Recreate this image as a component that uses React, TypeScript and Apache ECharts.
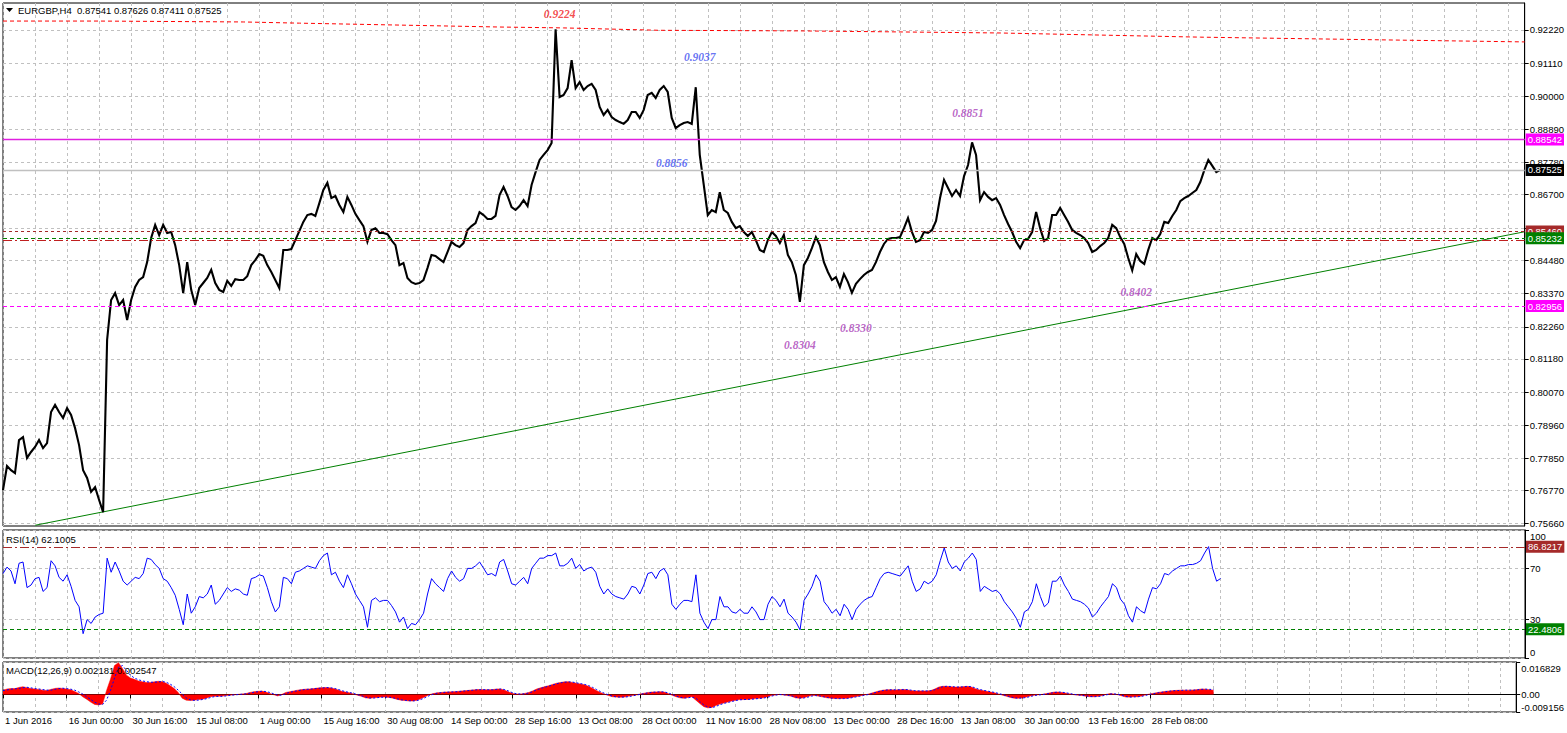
import React, { useEffect, useRef } from "react";
import * as echarts from "echarts";

// ---------- DATA ----------
const xTickLabels = [
  "1 Jun 2016", "16 Jun 00:00", "30 Jun 16:00", "15 Jul 08:00", "1 Aug 00:00",
  "15 Aug 16:00", "30 Aug 08:00", "14 Sep 00:00", "28 Sep 16:00", "13 Oct 08:00",
  "28 Oct 00:00", "11 Nov 16:00", "28 Nov 08:00", "13 Dec 00:00", "28 Dec 16:00",
  "13 Jan 08:00", "30 Jan 00:00", "13 Feb 16:00", "28 Feb 08:00",
];

const priceTicks = [0.9222, 0.9111, 0.9, 0.8889, 0.8778, 0.867, 0.8556, 0.8448, 0.8337, 0.8226, 0.8118, 0.8007, 0.7896, 0.7785, 0.7677, 0.7566];
const rsiTicks = [100, 70, 30, 0];
const macdTicks = [0.016829, 0, -0.009156];

// EURGBP H4 closes, one sample every 4 bars
const priceClose = [
  0.7678, 0.7759, 0.7745, 0.7735, 0.7846, 0.7856, 0.7786, 0.7806, 0.7823, 0.7846, 0.7819, 0.7836, 0.7940, 0.7964, 0.7940, 0.7920,
  0.7953, 0.7930, 0.7886, 0.7829, 0.7745, 0.7719, 0.7672, 0.7688, 0.7645, 0.7604, 0.8182, 0.8316, 0.8339, 0.8299, 0.8316, 0.8249,
  0.8316, 0.8360, 0.8383, 0.8393, 0.8443, 0.8524, 0.8568, 0.8534, 0.8568, 0.8541, 0.8544, 0.8500, 0.8433, 0.8339, 0.8443, 0.8350,
  0.8299, 0.8356, 0.8373, 0.8390, 0.8417, 0.8373, 0.8350, 0.8343, 0.8380, 0.8363, 0.8386, 0.8383, 0.8383, 0.8396, 0.8433, 0.8450,
  0.8470, 0.8464, 0.8433, 0.8410, 0.8383, 0.8356, 0.8484, 0.8484, 0.8487, 0.8517, 0.8547, 0.8578, 0.8601, 0.8605, 0.8598, 0.8641,
  0.8685, 0.8709, 0.8658, 0.8665, 0.8635, 0.8611, 0.8662, 0.8635, 0.8605, 0.8584, 0.8564, 0.8511, 0.8551, 0.8557, 0.8541, 0.8541,
  0.8537, 0.8517, 0.8500, 0.8433, 0.8440, 0.8390, 0.8376, 0.8370, 0.8373, 0.8383, 0.8423, 0.8467, 0.8464, 0.8453, 0.8443, 0.8477,
  0.8511, 0.8500, 0.8494, 0.8507, 0.8551, 0.8564, 0.8574, 0.8611, 0.8601, 0.8588, 0.8588, 0.8598, 0.8668, 0.8695, 0.8665, 0.8628,
  0.8618, 0.8631, 0.8651, 0.8631, 0.8702, 0.8745, 0.8786, 0.8803, 0.8819, 0.8843, 0.9224, 0.8997, 0.9004, 0.9027, 0.9121, 0.9027,
  0.9047, 0.9021, 0.9034, 0.9041, 0.9021, 0.8964, 0.8937, 0.8954, 0.8930, 0.8920, 0.8913, 0.8907, 0.8920, 0.8947, 0.8947, 0.8927,
  0.8954, 0.9004, 0.9011, 0.8994, 0.9021, 0.9034, 0.9014, 0.8927, 0.8893, 0.8903, 0.8910, 0.8913, 0.8907, 0.9030, 0.8803, 0.8702,
  0.8601, 0.8618, 0.8611, 0.8678, 0.8618, 0.8608, 0.8578, 0.8557, 0.8564, 0.8544, 0.8531, 0.8544, 0.8517, 0.8484, 0.8477, 0.8517,
  0.8544, 0.8531, 0.8507, 0.8534, 0.8467, 0.8443, 0.8400, 0.8310, 0.8433, 0.8457, 0.8490, 0.8527, 0.8500, 0.8443, 0.8410, 0.8383,
  0.8393, 0.8360, 0.8403, 0.8376, 0.8340, 0.8370, 0.8386, 0.8400, 0.8410, 0.8417, 0.8443, 0.8477, 0.8504, 0.8521, 0.8524, 0.8524,
  0.8527, 0.8557, 0.8591, 0.8544, 0.8511, 0.8517, 0.8544, 0.8541, 0.8551, 0.8581, 0.8658, 0.8719, 0.8692, 0.8665, 0.8685, 0.8665,
  0.8732, 0.8769, 0.8845, 0.8803, 0.8651, 0.8678, 0.8662, 0.8651, 0.8658, 0.8635, 0.8601, 0.8571, 0.8544, 0.8511, 0.8490, 0.8517,
  0.8521, 0.8544, 0.8611, 0.8557, 0.8514, 0.8524, 0.8601, 0.8601, 0.8625, 0.8601, 0.8578, 0.8551, 0.8541, 0.8534, 0.8524, 0.8507,
  0.8477, 0.8484, 0.8497, 0.8507, 0.8524, 0.8568, 0.8557, 0.8527, 0.8504, 0.8457, 0.8415, 0.8470, 0.8447, 0.8437, 0.8484, 0.8524,
  0.8517, 0.8537, 0.8578, 0.8574, 0.8598, 0.8618, 0.8648, 0.8658, 0.8665, 0.8675, 0.8685, 0.8712, 0.8752, 0.8786, 0.8766, 0.8745,
  0.87525,
];

const rsiValues = [
  66, 71, 68, 58, 74, 75, 55, 57, 62, 63, 52, 55, 76, 72, 63, 60,
  65, 56, 45, 40, 19, 30, 27, 32, 34, 35, 78, 67, 75, 68, 60, 57,
  60, 63, 62, 66, 78, 77, 73, 70, 62, 60, 55, 49, 38, 26, 50, 35,
  40, 48, 47, 50, 57, 42, 45, 50, 55, 52, 54, 53, 50, 49, 62, 63,
  65, 64, 55, 44, 36, 40, 63, 62, 58, 67, 68, 70, 72, 71, 70, 76,
  80, 82, 65, 67, 60, 55, 65, 58, 50, 45, 40, 24, 45, 47, 44, 45,
  45, 41, 36, 28, 32, 23, 27, 26, 30, 35, 50, 62, 58, 55, 52, 62,
  68, 63, 60, 62, 70, 70, 72, 75, 70, 65, 66, 64, 75, 77, 68, 58,
  57, 60, 63, 58, 70, 74, 78, 78, 80, 80, 82, 72, 72, 74, 78, 70,
  73, 68, 70, 71, 67, 56, 50, 54, 50, 48, 47, 46, 50, 56, 55, 50,
  57, 66, 67, 62, 68, 70, 65, 42, 38, 42, 45, 45, 44, 65, 35, 28,
  23, 30, 30, 48, 40, 40, 36, 35, 38, 35, 35, 40, 36, 30, 30, 42,
  48, 45, 40, 46, 35, 32, 28, 22, 45, 50, 56, 65, 60, 44, 40, 35,
  38, 33, 42, 38, 30, 38, 42, 45, 47, 48, 55, 62, 66, 67, 66, 65,
  64, 68, 72, 60, 52, 54, 60, 58, 60, 65, 76, 86, 75, 70, 72, 68,
  75, 78, 82, 77, 52, 56, 54, 52, 53, 50, 44, 40, 36, 31, 24, 36,
  38, 44, 58, 48, 40, 43, 60, 60, 64, 57, 52, 46, 45, 44, 42, 39,
  32, 35, 40, 44, 48, 58, 55, 46, 42, 33, 28, 40, 37, 35, 46, 55,
  54, 58, 66, 65, 68, 70, 72, 72, 73, 73, 74, 76, 82, 87, 70, 60,
  62.1005,
];

const macdMain = [
  0.0022, 0.0028, 0.0030, 0.0030, 0.0036, 0.0040, 0.0035, 0.0030, 0.0028, 0.0026, 0.0022, 0.0020, 0.0026, 0.0031, 0.0033, 0.0031,
  0.0028, 0.0024, 0.0015, 0.0005, -0.0012, -0.0025, -0.0040, -0.0052, -0.0055, -0.0050, 0.0020, 0.0080, 0.0150, 0.0165, 0.0135, 0.0100,
  0.0085, 0.0078, 0.0070, 0.0065, 0.0062, 0.0062, 0.0065, 0.0068, 0.0066, 0.0058, 0.0045, 0.0030, 0.0010, -0.0020, -0.0030, -0.0032,
  -0.0030, -0.0027, -0.0025, -0.0020, -0.0012, -0.0010, -0.0010, -0.0009, -0.0006, -0.0004, -0.0002, 0.0000, 0.0002, 0.0004, 0.0010, 0.0014,
  0.0016, 0.0017, 0.0012, 0.0005, -0.0002, -0.0008, 0.0000, 0.0010, 0.0014, 0.0018, 0.0022, 0.0025, 0.0027, 0.0028, 0.0030, 0.0033,
  0.0035, 0.0036, 0.0034, 0.0030, 0.0024, 0.0016, 0.0012, 0.0008, 0.0002, -0.0004, -0.0010, -0.0018, -0.0020, -0.0018, -0.0016, -0.0014,
  -0.0014, -0.0016, -0.0020, -0.0026, -0.0030, -0.0032, -0.0034, -0.0034, -0.0030, -0.0022, -0.0012, -0.0002, 0.0004, 0.0008, 0.0010, 0.0012,
  0.0013, 0.0014, 0.0015, 0.0017, 0.0019, 0.0021, 0.0023, 0.0025, 0.0025, 0.0024, 0.0024, 0.0025, 0.0028, 0.0028, 0.0022, 0.0012,
  0.0004, 0.0002, 0.0002, 0.0005, 0.0010, 0.0018, 0.0028, 0.0034, 0.0040, 0.0045, 0.0052, 0.0058, 0.0062, 0.0065, 0.0066, 0.0062,
  0.0058, 0.0054, 0.0050, 0.0042, 0.0032, 0.0020, 0.0010, 0.0002, -0.0006, -0.0012, -0.0014, -0.0015, -0.0014, -0.0010, -0.0006, -0.0003,
  0.0002, 0.0006, 0.0010, 0.0012, 0.0013, 0.0014, 0.0012, 0.0004, -0.0004, -0.0012, -0.0018, -0.0020, -0.0016, -0.0012, -0.0030, -0.0048,
  -0.0064, -0.0070, -0.0068, -0.0058, -0.0050, -0.0045, -0.0040, -0.0034, -0.0030, -0.0027, -0.0027, -0.0026, -0.0024, -0.0022, -0.0020, -0.0018,
  -0.0012, -0.0006, -0.0003, 0.0000, -0.0003, -0.0006, -0.0010, -0.0018, -0.0020, -0.0018, -0.0012, -0.0006, -0.0006, -0.0010, -0.0014, -0.0018,
  -0.0020, -0.0022, -0.0022, -0.0021, -0.0020, -0.0016, -0.0012, -0.0008, -0.0004, 0.0000, 0.0006, 0.0012, 0.0018, 0.0022, 0.0024, 0.0024,
  0.0023, 0.0024, 0.0026, 0.0024, 0.0020, 0.0018, 0.0018, 0.0018, 0.0018, 0.0020, 0.0028, 0.0038, 0.0042, 0.0042, 0.0040, 0.0038,
  0.0038, 0.0040, 0.0042, 0.0040, 0.0030, 0.0024, 0.0020, 0.0016, 0.0012, 0.0008, 0.0002, -0.0004, -0.0010, -0.0016, -0.0020, -0.0020,
  -0.0018, -0.0014, -0.0008, -0.0004, -0.0002, 0.0000, 0.0004, 0.0008, 0.0012, 0.0012, 0.0010, 0.0006, 0.0002, -0.0002, -0.0004, -0.0006,
  -0.0010, -0.0012, -0.0012, -0.0010, -0.0006, 0.0000, 0.0004, 0.0002, -0.0002, -0.0008, -0.0014, -0.0014, -0.0012, -0.0012, -0.0008, -0.0002,
  0.0002, 0.0006, 0.0010, 0.0013, 0.0016, 0.0018, 0.0020, 0.0021, 0.0022, 0.0022, 0.0022, 0.0023, 0.0025, 0.0028, 0.0027, 0.0024,
  0.002181,
];

const macdSignal = [
  0.0020, 0.0023, 0.0027, 0.0029, 0.0031, 0.0035, 0.0037, 0.0034, 0.0030, 0.0028, 0.0025, 0.0022, 0.0022, 0.0026, 0.0030, 0.0032,
  0.0030, 0.0027, 0.0022, 0.0013, 0.0002, -0.0012, -0.0026, -0.0040, -0.0050, -0.0053, -0.0030, 0.0020, 0.0085, 0.0140, 0.0150, 0.0125,
  0.0100, 0.0085, 0.0076, 0.0070, 0.0066, 0.0063, 0.0063, 0.0065, 0.0067, 0.0063, 0.0053, 0.0040, 0.0022, 0.0002, -0.0018, -0.0028,
  -0.0031, -0.0030, -0.0027, -0.0023, -0.0017, -0.0012, -0.0010, -0.0010, -0.0008, -0.0005, -0.0003, -0.0001, 0.0001, 0.0003, 0.0006, 0.0011,
  0.0014, 0.0016, 0.0015, 0.0010, 0.0003, -0.0004, -0.0004, 0.0004, 0.0011, 0.0015, 0.0019, 0.0023, 0.0026, 0.0027, 0.0029, 0.0031,
  0.0033, 0.0035, 0.0035, 0.0032, 0.0027, 0.0020, 0.0014, 0.0010, 0.0005, -0.0001, -0.0007, -0.0014, -0.0019, -0.0019, -0.0017, -0.0015,
  -0.0014, -0.0015, -0.0018, -0.0023, -0.0028, -0.0031, -0.0033, -0.0034, -0.0032, -0.0026, -0.0017, -0.0007, 0.0001, 0.0006, 0.0009, 0.0011,
  0.0012, 0.0013, 0.0014, 0.0016, 0.0018, 0.0020, 0.0022, 0.0024, 0.0025, 0.0025, 0.0024, 0.0024, 0.0026, 0.0028, 0.0025, 0.0017,
  0.0008, 0.0003, 0.0002, 0.0003, 0.0007, 0.0014, 0.0023, 0.0031, 0.0037, 0.0043, 0.0048, 0.0055, 0.0060, 0.0063, 0.0065, 0.0064,
  0.0060, 0.0056, 0.0052, 0.0046, 0.0037, 0.0026, 0.0015, 0.0006, -0.0002, -0.0009, -0.0013, -0.0014, -0.0014, -0.0012, -0.0008, -0.0004,
  0.0000, 0.0004, 0.0008, 0.0011, 0.0012, 0.0013, 0.0013, 0.0008, 0.0000, -0.0008, -0.0015, -0.0019, -0.0018, -0.0014, -0.0020, -0.0038,
  -0.0055, -0.0066, -0.0069, -0.0063, -0.0054, -0.0047, -0.0042, -0.0037, -0.0032, -0.0028, -0.0027, -0.0026, -0.0025, -0.0023, -0.0021, -0.0019,
  -0.0015, -0.0009, -0.0004, -0.0001, -0.0002, -0.0004, -0.0008, -0.0014, -0.0019, -0.0019, -0.0015, -0.0009, -0.0006, -0.0008, -0.0012, -0.0016,
  -0.0019, -0.0021, -0.0022, -0.0022, -0.0021, -0.0018, -0.0014, -0.0010, -0.0006, -0.0002, 0.0003, 0.0009, 0.0015, 0.0020, 0.0023, 0.0024,
  0.0024, 0.0024, 0.0025, 0.0025, 0.0022, 0.0019, 0.0018, 0.0018, 0.0018, 0.0019, 0.0024, 0.0033, 0.0040, 0.0042, 0.0041, 0.0039,
  0.0038, 0.0039, 0.0041, 0.0041, 0.0035, 0.0027, 0.0022, 0.0018, 0.0014, 0.0010, 0.0005, -0.0001, -0.0007, -0.0013, -0.0018, -0.0020,
  -0.0019, -0.0016, -0.0011, -0.0006, -0.0003, -0.0001, 0.0002, 0.0006, 0.0010, 0.0012, 0.0011, 0.0008, 0.0004, 0.0000, -0.0003, -0.0005,
  -0.0008, -0.0011, -0.0012, -0.0011, -0.0008, -0.0003, 0.0002, 0.0003, 0.0000, -0.0005, -0.0011, -0.0014, -0.0013, -0.0012, -0.0010, -0.0005,
  0.0000, 0.0004, 0.0008, 0.0011, 0.0014, 0.0017, 0.0019, 0.0020, 0.0021, 0.0022, 0.0022, 0.0022, 0.0024, 0.0026, 0.0027, 0.0026,
  0.002547,
];

// slow red dashed average near the top: [sample index, price]
const slowAverage: [number, number][] = [
  [0, 0.9252], [24, 0.9252], [60, 0.9249], [74, 0.9245], [124, 0.9232], [140, 0.9229],
  [164, 0.9221], [199, 0.9219], [249, 0.9212], [299, 0.9198], [349, 0.9188], [380, 0.9182],
];

// green support trend line: [sample index, price]
const trendLine: [number, number][] = [[8, 0.756], [380, 0.8545]];

// horizontal levels
const mainLevels = [0.88542, 0.87525, 0.8546, 0.85232, 0.8517, 0.82956];
const rsiLevels = [86.8217, 22.4806];

// price annotations
const annotationTexts = ["0.9224", "0.9037", "0.8856", "0.8851", "0.8402", "0.8330", "0.8304"];
const annotationIndex = [139, 174, 167, 241, 283, 213, 199];
const annotationPrice = [0.9276, 0.9131, 0.8776, 0.8943, 0.8343, 0.8222, 0.8165];

const headerText = "EURGBP,H4  0.87541 0.87626 0.87411 0.87525";
const rsiHeader = "RSI(14) 62.1005";
const macdHeader = "MACD(12,26,9) 0.002181 0.002547";

const CATEGORY_COUNT = 381;

// ---------- STYLE ----------
const FONT = 'Tahoma, "Liberation Sans", Arial, sans-serif';
const FS = 9.5;
const GRID_LINE = { color: "#c0c0c0", type: [3, 3] as number[], width: 1 };

const mainLevelStyles = [
  { color: "#e020e0", type: "solid", width: 1.3, tag: "#ff00ff" },
  { color: "#c0c0c0", type: "solid", width: 1.3, tag: "#000000" },
  { color: "#a52a2a", type: [3, 3], width: 1, tag: "#a52a2a" },
  { color: "#008000", type: [4, 3], width: 1, tag: "#008000" },
  { color: "#c02020", type: [9, 3, 2, 3], width: 1, tag: null },
  { color: "#ff00ff", type: [4, 3], width: 1, tag: "#ff00ff" },
];
const rsiLevelStyles = [
  { color: "#a52a2a", type: [9, 3, 2, 3], width: 1, tag: "#a52a2a" },
  { color: "#008000", type: [4, 3], width: 1, tag: "#008000" },
];
const annotationColors = ["#f02020", "#4050f0", "#4050f0", "#a940b8", "#a940b8", "#a940b8", "#a940b8"];

function levelLines(values: number[], styles: any[], digits: number) {
  return values.map((v, i) => ({
    yAxis: v,
    lineStyle: { color: styles[i].color, type: styles[i].type, width: styles[i].width },
    label: styles[i].tag
      ? {
          show: true,
          position: "end",
          distance: 1,
          formatter: () => v.toFixed(digits),
          color: "#ffffff",
          backgroundColor: styles[i].tag,
          padding: [1, 2, 0, 2],
          lineHeight: 11,
          fontSize: FS,
          fontFamily: FONT,
        }
      : { show: false },
  }));
}

function buildOption(): any {
  const categories = Array.from({ length: CATEGORY_COUNT }, (_, i) => String(i));
  const gridCommon = { left: 3, width: 1522, show: true, borderColor: "#000", borderWidth: 1, backgroundColor: "#fff" };
  const isLabelIdx = (i: number) => i % 16 === 0 && i / 16 < xTickLabels.length;
  const xBase = (gridIndex: number, withLabels: boolean) => ({
    type: "category",
    gridIndex,
    data: categories,
    boundaryGap: false,
    axisLine: { show: withLabels, lineStyle: { color: "#000" } },
    axisTick: withLabels
      ? { show: true, interval: (i: number) => isLabelIdx(i), length: 4, lineStyle: { color: "#000" } }
      : { show: false },
    axisLabel: withLabels
      ? {
          show: true,
          interval: (i: number) => isLabelIdx(i),
          formatter: (_v: string, idx: number) => xTickLabels[idx / 16] ?? "",
          align: "left",
          margin: 3,
          padding: [0, 0, 0, 2],
          color: "#000",
          fontSize: FS,
          fontFamily: FONT,
        }
      : { show: false },
    splitLine: { show: true, interval: (i: number) => i % 8 === 0, lineStyle: GRID_LINE },
  });
  const yLabelBase = { color: "#000", fontSize: FS, fontFamily: FONT, margin: 5 };

  return {
    animation: false,
    backgroundColor: "#ffffff",
    grid: [
      { ...gridCommon, top: 3, height: 523 },
      { ...gridCommon, top: 530, height: 128 },
      { ...gridCommon, top: 662, height: 50 },
    ],
    xAxis: [xBase(0, false), xBase(1, false), xBase(2, true)],
    yAxis: [
      {
        type: "value",
        gridIndex: 0,
        position: "right",
        min: 0.75576,
        max: 0.93126,
        axisLine: { show: true, lineStyle: { color: "#000" } },
        axisTick: { show: true, customValues: priceTicks, length: 4, lineStyle: { color: "#000" } },
        axisLabel: { ...yLabelBase, customValues: priceTicks, formatter: (v: number) => v.toFixed(5) },
        splitLine: { show: true, lineStyle: GRID_LINE },
      },
      {
        type: "value",
        gridIndex: 1,
        position: "right",
        min: 0,
        max: 100,
        axisLine: { show: true, lineStyle: { color: "#000" } },
        axisTick: { show: true, customValues: rsiTicks, length: 4, lineStyle: { color: "#000" } },
        axisLabel: {
          ...yLabelBase,
          customValues: rsiTicks,
          formatter: (v: number) => (v === 100 ? `{t|${v}}` : v === 0 ? `{b|${v}}` : `{n|${v}}`),
          rich: {
            t: { padding: [12, 0, 0, 0], fontSize: FS, fontFamily: FONT, color: "#000" },
            b: { padding: [0, 0, 12, 0], fontSize: FS, fontFamily: FONT, color: "#000" },
            n: { fontSize: FS, fontFamily: FONT, color: "#000" },
          },
        },
        splitLine: { show: true, lineStyle: GRID_LINE },
      },
      {
        type: "value",
        gridIndex: 2,
        position: "right",
        min: -0.009156,
        max: 0.016829,
        axisLine: { show: true, lineStyle: { color: "#000" } },
        axisTick: { show: true, customValues: macdTicks, length: 4, lineStyle: { color: "#000" } },
        axisLabel: {
          ...yLabelBase,
          customValues: macdTicks,
          formatter: (v: number) => (v === 0 ? "{n|0.00}" : v > 0 ? `{t|${v}}` : `{b|${v}}`),
          rich: {
            t: { padding: [12, 0, 0, 0], fontSize: FS, fontFamily: FONT, color: "#000" },
            b: { padding: [0, 0, 10, 0], fontSize: FS, fontFamily: FONT, color: "#000" },
            n: { fontSize: FS, fontFamily: FONT, color: "#000" },
          },
        },
        splitLine: { show: true, lineStyle: GRID_LINE },
      },
    ],
    graphic: [
      { type: "polygon", z: 100, shape: { points: [[6, 8], [13, 8], [9.5, 12]] }, style: { fill: "#000" } },
      { type: "text", z: 100, x: 18, y: 10, style: { text: headerText, fill: "#000", font: `${FS}px ${FONT}`, verticalAlign: "middle" } },
      { type: "text", z: 100, x: 6, y: 539, style: { text: rsiHeader, fill: "#000", font: `${FS}px ${FONT}`, verticalAlign: "middle" } },
      { type: "text", z: 100, x: 6, y: 670, style: { text: macdHeader, fill: "#000", font: `${FS}px ${FONT}`, verticalAlign: "middle" } },
    ],
    series: [
      {
        name: "slow average",
        type: "line",
        xAxisIndex: 0,
        yAxisIndex: 0,
        data: slowAverage,
        showSymbol: false,
        silent: true,
        lineStyle: { color: "#ff0000", width: 1, type: [4, 3] },
      },
      {
        name: "trend",
        type: "line",
        xAxisIndex: 0,
        yAxisIndex: 0,
        data: trendLine,
        showSymbol: false,
        silent: true,
        lineStyle: { color: "#008000", width: 1 },
      },
      {
        name: "EURGBP",
        type: "line",
        xAxisIndex: 0,
        yAxisIndex: 0,
        data: priceClose,
        showSymbol: false,
        silent: true,
        z: 3,
        lineStyle: { color: "#000000", width: 2.1, join: "miter" },
        markLine: {
          silent: true,
          precision: 6,
          symbol: ["none", "none"],
          animation: false,
          data: levelLines(mainLevels, mainLevelStyles, 5),
        },
      },
      {
        name: "annotations",
        type: "scatter",
        xAxisIndex: 0,
        yAxisIndex: 0,
        symbolSize: 0,
        silent: true,
        z: 5,
        data: annotationTexts.map((t, i) => ({
          name: t,
          value: [annotationIndex[i], annotationPrice[i]],
          label: { color: annotationColors[i] },
        })),
        label: {
          show: true,
          position: "inside",
          formatter: "{b}",
          fontStyle: "italic",
          fontWeight: "bold",
          fontSize: 11.5,
          textBorderWidth: 0,
          textBorderColor: "transparent",
          fontFamily: '"Liberation Serif", "Times New Roman", serif',
        },
      },
      {
        name: "RSI",
        type: "line",
        xAxisIndex: 1,
        yAxisIndex: 1,
        data: rsiValues,
        showSymbol: false,
        silent: true,
        lineStyle: { color: "#0000ff", width: 1 },
        markLine: {
          silent: true,
          precision: 6,
          symbol: ["none", "none"],
          animation: false,
          data: levelLines(rsiLevels, rsiLevelStyles, 4),
        },
      },
      {
        name: "MACD",
        type: "line",
        xAxisIndex: 2,
        yAxisIndex: 2,
        data: macdMain,
        showSymbol: false,
        silent: true,
        lineStyle: { color: "#ff0000", width: 0.5 },
        areaStyle: { color: "#ff0000", opacity: 1 },
      },
      {
        name: "Signal",
        type: "line",
        xAxisIndex: 2,
        yAxisIndex: 2,
        data: macdSignal,
        showSymbol: false,
        silent: true,
        z: 4,
        lineStyle: { color: "#0000ff", width: 1, type: [2, 2] },
      },
    ],
  };
}

export default function App() {
  const ref = useRef<HTMLDivElement>(null);
  useEffect(() => {
    if (!ref.current) return;
    const chart = echarts.init(ref.current, null, { renderer: "svg" });
    chart.setOption(buildOption());
    return () => chart.dispose();
  }, []);
  return (
    <div
      ref={ref}
      style={{ position: "fixed", left: 0, top: 0, width: 1567, height: 733, background: "#ffffff" }}
    />
  );
}
